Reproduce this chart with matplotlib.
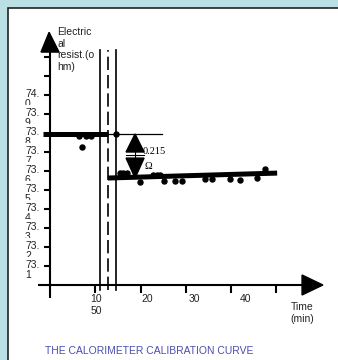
import matplotlib
matplotlib.use("Agg")
import matplotlib.pyplot as plt
from matplotlib.patches import Polygon, Rectangle

plt.rcParams['font.family'] = ['Liberation Sans', 'DejaVu Sans']

# data (time in min, resistance in ohm)
pre_t = [6.4, 8.0, 9.1, 7.1, 14.6]
pre_r = [73.784, 73.784, 73.784, 73.726, 73.795]
post_t = [15.5, 16.1, 17.0, 19.9, 22.8, 23.6, 24.3, 25.2, 27.6, 29.2,
          34.3, 35.8, 39.8, 42.0, 45.7, 47.5]
post_r = [73.589, 73.589, 73.589, 73.542, 73.579, 73.579, 73.579, 73.547,
          73.547, 73.547, 73.558, 73.558, 73.558, 73.553, 73.563, 73.611]
pre_fit_t = [-1.5, 12.8]
pre_fit_r = [73.795, 73.795]
pre_ext_t = [12.8, 24.8]
post_fit_t = [12.8, 50.2]
post_fit_r = [73.563, 73.589]
vlines_t = [11.05, 12.8, 14.6]
vlines_style = ['-', (0, (8, 3)), '-']
step_t = 18.8
step_label = "0.215"
y_ticks = [73.1, 73.2, 73.3, 73.4, 73.5, 73.6, 73.7, 73.8, 73.9, 74.0, 74.1, 74.2]
y_labels = {74.0: "74.\n0", 73.9: "73.\n9", 73.8: "73.\n8", 73.7: "73.\n7",
            73.6: "73.\n6", 73.5: "73.\n5", 73.4: "73.\n4", 73.3: "73.\n3",
            73.2: "73.\n2", 73.1: "73.\n1"}
x_ticks = [10, 20, 30, 40, 50]
x_labels = ["10\n50", "20", "30", "40"]
x_label_pos = [10.2, 21.4, 32.0, 43.3]

W, H = 338, 360
fig = plt.figure(figsize=(W / 100, H / 100), dpi=100)
fig.patch.set_facecolor('#bbe0e3')
panel = Rectangle((8 / W, -0.1), 1.2, 1.1 - 8 / H,
                  transform=fig.transFigure, facecolor='white',
                  edgecolor='#222222', lw=1.2, zorder=-5)
fig.patches.append(panel)

# axes spanning the whole figure; px per min = 4.525, px per ohm = 190
ax = fig.add_axes([0, 0, 1, 1])
ax.set_zorder(2)
ax.set_xlim(-50 / 4.525, (W - 50) / 4.525)
ax.set_ylim(73.1 - (H - 266) / 190, 73.1 + 266 / 190)
ax.axis('off')

px_t = 1 / 4.525   # one pixel in minutes
px_r = 1 / 190     # one pixel in ohm
x_axis_r = 73.0

# axes
ax.plot([-12 * px_t, 55.7], [x_axis_r, x_axis_r], color='k', lw=1.5, solid_capstyle='butt')
ax.add_patch(Polygon([(55.7, x_axis_r + 10 * px_r), (55.7, x_axis_r - 10 * px_r),
                      (60.3, x_axis_r)], closed=True, color='k'))
ax.plot([0, 0], [x_axis_r - 13 * px_r, 74.226], color='k', lw=1.5, solid_capstyle='butt')
ax.add_patch(Polygon([(-9 * px_t, 74.226), (9 * px_t, 74.226), (-0.2, 74.33)],
                     closed=True, color='k', zorder=5))
for t in x_ticks:
    ax.plot([t, t], [x_axis_r, x_axis_r - 8 * px_r], color='k', lw=1.5, solid_capstyle='butt')
for r in y_ticks:
    ax.plot([-6 * px_t, 0], [r, r], color='k', lw=1.5, solid_capstyle='butt')

# tick labels (wrapped, each covering the second line of the one above)
for i, r in enumerate(sorted(y_labels, reverse=True)):
    ax.text(-25 * px_t, r + 6 * px_r, y_labels[r], ha='left', va='top', fontsize=7.5,
            color='#222222', zorder=3 + i * 0.01, linespacing=1.05,
            bbox=dict(facecolor='white', edgecolor='none', pad=2))
for lab, t in zip(x_labels, x_label_pos):
    ax.text(t, x_axis_r - 9 * px_r, lab, ha='center', va='top',
            fontsize=7.5, color='#222222')

ax.text(1.55, 74.358, "Electric\nal\nresist.(o\nhm)", ha='left', va='top',
        fontsize=7.5, color='#222222', zorder=4)
ax.text(55.7, x_axis_r - 17 * px_r, "Time\n(min)", ha='center', va='top',
        fontsize=7.5, color='#222222')

# period boundaries
for t, ls in zip(vlines_t, vlines_style):
    ax.plot([t, t], [72.974, 74.237], color='k', lw=1.2, linestyle=ls)

# fitted lines
ax.plot(pre_fit_t, pre_fit_r, color='k', lw=3.6, solid_capstyle='butt')
ax.plot(pre_ext_t, pre_fit_r, color='k', lw=0.9)
ax.plot(post_fit_t, post_fit_r, color='k', lw=3.6, solid_capstyle='butt')

# measurements
ax.plot(pre_t, pre_r, 'o', color='k', ms=3.6)
ax.plot(post_t, post_r, 'o', color='k', ms=3.6)

# step arrow
top_r, bot_r = pre_fit_r[1], 73.563
hw = 9 * px_t
ax.add_patch(Polygon([(step_t - hw, 73.70), (step_t + hw, 73.70), (step_t, top_r)],
                     closed=True, color='k', zorder=6))
ax.add_patch(Polygon([(step_t - hw, 73.668), (step_t + hw, 73.668), (step_t, bot_r)],
                     closed=True, color='k', zorder=6))
ax.plot([step_t - hw, step_t + hw], [73.684, 73.684], color='k', lw=0.8, zorder=6)
ax.plot([step_t, step_t], [73.70, 73.668], color='k', lw=0.8, zorder=6)
ax.text(step_t + 8 * px_t, 73.70, step_label, ha='left', va='center',
        fontsize=7.5, family=['Liberation Serif', 'DejaVu Serif'], zorder=5)
ax.text(step_t + 9 * px_t, 73.626, "\u03a9", ha='left', va='center',
        fontsize=7.5, family=['Liberation Serif', 'DejaVu Serif'], zorder=5)

fig.text(45 / W, 1 - 351 / H, "THE CALORIMETER CALIBRATION CURVE", ha='left',
         va='center', fontsize=7.5, color='#4b4fae')

fig.savefig('out.png', dpi=100, facecolor=fig.get_facecolor())
